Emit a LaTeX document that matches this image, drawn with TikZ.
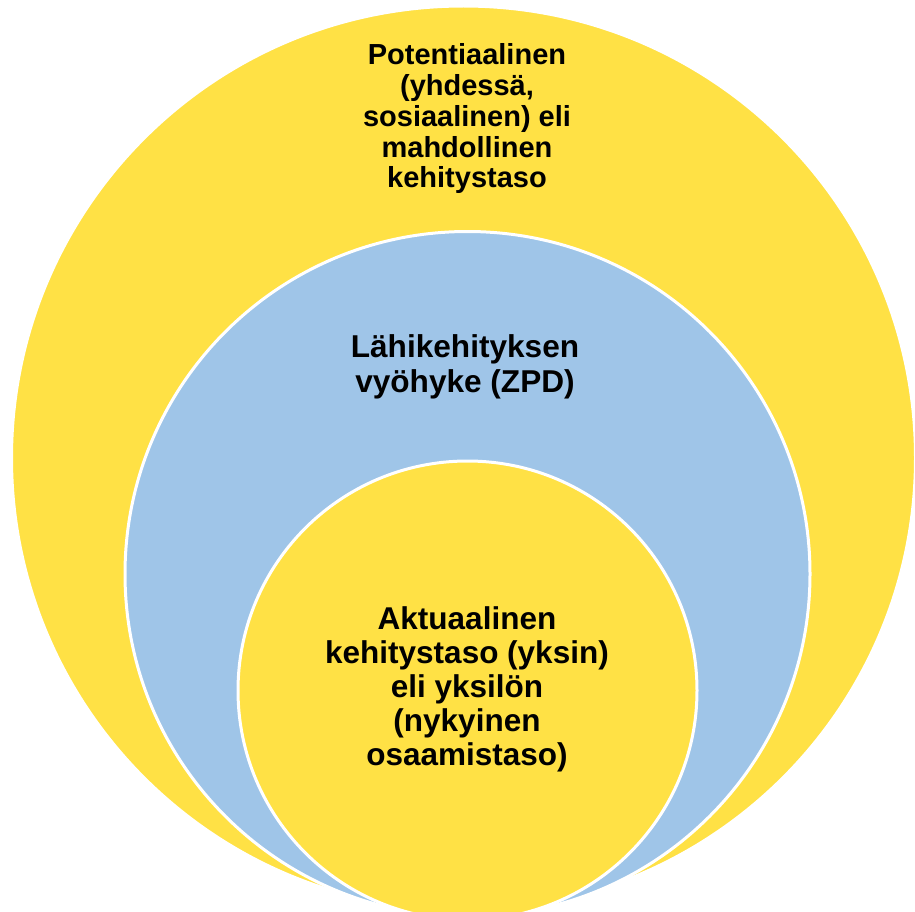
\documentclass[tikz,border=0pt]{standalone}
\usepackage{fontspec}
\setmainfont{Liberation Sans}
\definecolor{ylw}{HTML}{FFE145}
\definecolor{blu}{HTML}{9FC5E8}
\begin{document}
\begin{tikzpicture}[x=1pt,y=-1pt,
  ring/.style={line width=3pt,draw=white},
  lbl/.style={align=center,inner sep=0pt,anchor=base,font=\bfseries}]
\useasboundingbox (0,0) rectangle (915,912);
\clip (0,0) rectangle (915,912);
\fill[white] (0,0) rectangle (915,912);
\path[ring,fill=ylw] (463.5,458) circle (452);
\path[ring,fill=blu] (467.5,574) circle (342.5);
\path[ring,fill=ylw] (467.5,690.5) circle (229.5);
\node[lbl,font=\bfseries\fontsize{29}{30.8}\selectfont] (outer) at (467,188)
  {Potentiaalinen\\(yhdessä,\\sosiaalinen) eli\\mahdollinen\\kehitystaso};
\node[lbl,font=\bfseries\fontsize{31.6}{35}\selectfont] (mid) at (465,392)
  {Lähikehityksen\\vyöhyke (ZPD)};
\node[lbl,font=\bfseries\fontsize{31.5}{33.8}\selectfont] (inner) at (467,765)
  {Aktuaalinen\\kehitystaso (yksin)\\eli yksilön\\(nykyinen\\osaamistaso)};
\end{tikzpicture}
\end{document}
